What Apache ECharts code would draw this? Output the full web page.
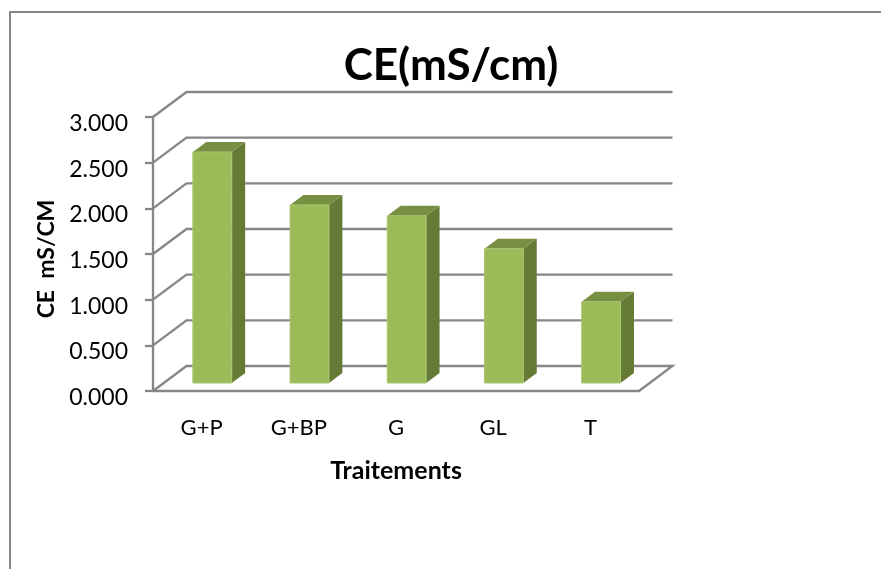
<!DOCTYPE html>
<html>
<head>
<meta charset="utf-8">
<style>html,body{margin:0;padding:0;background:#fff}#chart{width:881px;height:569px}</style>
<script src="https://cdn.jsdelivr.net/npm/echarts@6/dist/echarts.min.js"></script>
</head>
<body>
<div id="chart"></div>
<script>
const categories = ['G+P', 'G+BP', 'G', 'GL', 'T'];
const conductivity = [2.53, 1.95, 1.83, 1.47, 0.89];
const gridValues = [0, 0.5, 1, 1.5, 2, 2.5, 3];

const FONT = 'Lato, "Open Sans", sans-serif';
const LINE = '#868686';
// Oblique projection of the chart box: full depth of the floor in pixels
const DEPTH_X = 33.5;
const DEPTH_Y = 25;
// Bars sit part way into the box
const BAR_START = 0.32;
const BAR_END = 0.72;
const BAR_WIDTH = 0.4;

function renderWall(params, api) {
  const c = params.coordSys;
  const p = api.coord([0, api.value(1)]);
  const left = c.x, right = c.x + c.width, y = p[1];
  const points = [[left, y], [left + DEPTH_X, y - DEPTH_Y], [right + DEPTH_X, y - DEPTH_Y]];
  if (api.value(1) === 0) points.push([right, y]);
  return {
    type: 'polyline',
    shape: { points },
    style: { stroke: LINE, lineWidth: 2.3, fill: null }
  };
}

function renderBar(params, api) {
  const i = api.value(0);
  const top = api.coord([i, api.value(1)]);
  const base = api.coord([i, 0]);
  const w = api.size([1, 0])[0] * BAR_WIDTH;
  const x0 = top[0] - w / 2 + DEPTH_X * BAR_START;
  const x1 = x0 + w;
  const yTop = top[1] - DEPTH_Y * BAR_START;
  const yBase = base[1] - DEPTH_Y * BAR_START;
  const dx = DEPTH_X * (BAR_END - BAR_START);
  const dy = DEPTH_Y * (BAR_END - BAR_START);
  return {
    type: 'group',
    children: [
      {
        type: 'polygon',
        shape: { points: [[x1, yTop], [x1 + dx, yTop - dy], [x1 + dx, yBase - dy], [x1, yBase]] },
        style: { fill: '#647a35' }
      },
      {
        type: 'polygon',
        shape: { points: [[x0, yTop], [x0 + dx, yTop - dy], [x1 + dx, yTop - dy], [x1, yTop]] },
        style: { fill: '#768f40' }
      },
      {
        type: 'rect',
        shape: { x: x0, y: yTop, width: w, height: yBase - yTop },
        style: { fill: '#9bbb59', stroke: '#aac673', lineWidth: 1 }
      }
    ]
  };
}

const chart = echarts.init(document.getElementById('chart'), null, { renderer: 'canvas' });
chart.setOption({
  animation: false,
  backgroundColor: '#ffffff',
  title: {
    text: 'CE(mS/cm)',
    left: 446,
    top: 39,
    textAlign: 'center',
    textStyle: { fontFamily: FONT, fontSize: 44, fontWeight: 'bold', color: '#000' }
  },
  grid: { left: 153, top: 117, width: 486, height: 274 },
  xAxis: {
    type: 'category',
    data: categories,
    name: 'Traitements',
    nameLocation: 'middle',
    nameGap: 67,
    nameTextStyle: { fontFamily: FONT, fontSize: 25, fontWeight: 'bold', color: '#000' },
    axisTick: { show: false },
    axisLine: { lineStyle: { color: LINE, width: 2.3 } },
    axisLabel: { margin: 26, fontFamily: FONT, fontSize: 22, color: '#000' },
    splitLine: { show: false }
  },
  yAxis: {
    type: 'value',
    min: 0,
    max: 3,
    interval: 0.5,
    name: 'CE  mS/CM',
    nameLocation: 'middle',
    nameGap: 94,
    nameTextStyle: { fontFamily: FONT, fontSize: 23, fontWeight: 'bold', color: '#000', padding: [0, 10, 0, 0] },
    axisLine: { show: true, lineStyle: { color: LINE, width: 2.3 } },
    axisTick: { show: true, length: 8, lineStyle: { color: LINE, width: 2.3 } },
    axisLabel: {
      margin: 25,
      fontFamily: FONT,
      fontSize: 23,
      color: '#000',
      verticalAlign: 'top',
      lineHeight: 13,
      formatter: v => v.toFixed(3)
    },
    splitLine: { show: false }
  },
  series: [
    {
      type: 'custom',
      name: 'walls',
      clip: false,
      z: 1,
      silent: true,
      renderItem: renderWall,
      encode: { x: 0, y: 1 },
      data: gridValues.map(v => [0, v])
    },
    {
      type: 'custom',
      name: 'CE',
      clip: false,
      z: 3,
      renderItem: renderBar,
      encode: { x: 0, y: 1 },
      data: conductivity.map((v, i) => [i, v])
    }
  ],
  graphic: [
    { type: 'line', shape: { x1: 10, y1: 569, x2: 10, y2: 12 }, style: { stroke: LINE, lineWidth: 2 } },
    { type: 'line', shape: { x1: 9, y1: 12, x2: 881, y2: 12 }, style: { stroke: LINE, lineWidth: 2 } }
  ]
});
</script>
</body>
</html>
